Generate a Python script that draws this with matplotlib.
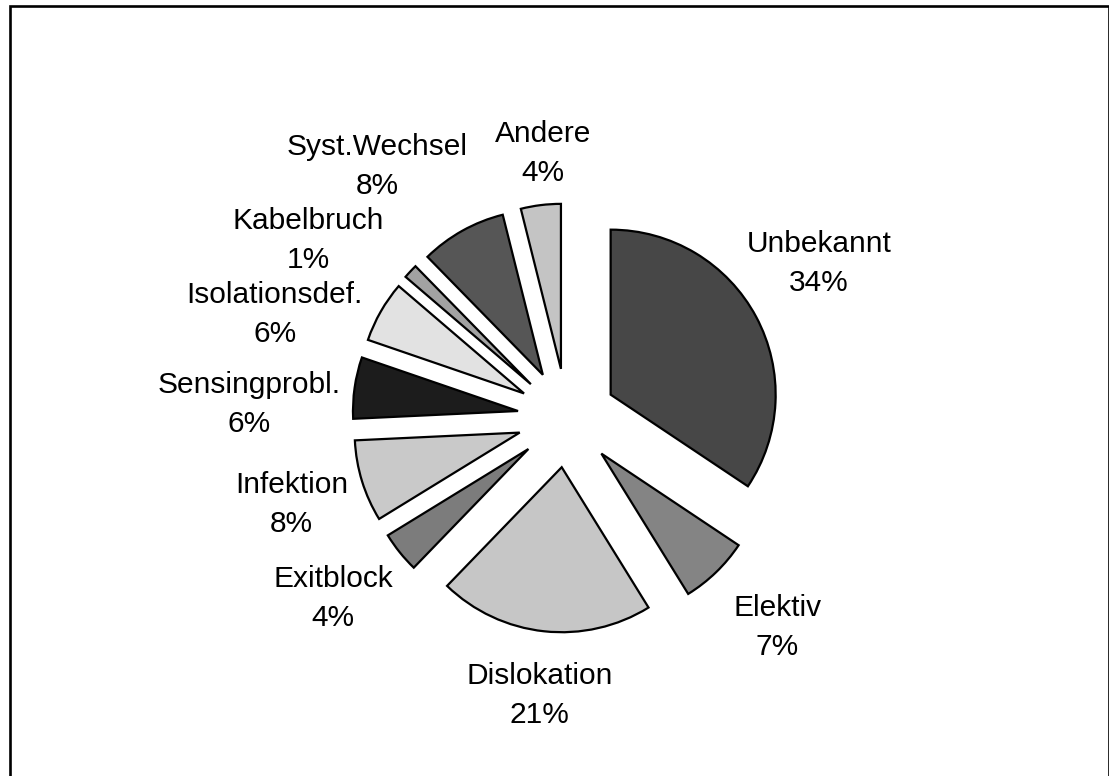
import numpy as np
import matplotlib.pyplot as plt
from matplotlib.patches import Rectangle

plt.rcParams['font.family'] = ['Liberation Sans', 'DejaVu Sans']

##################   Data  #########################

categories = ['Unbekannt', 'Elektiv', 'Dislokation', 'Exitblock', 'Infektion',
              'Sensingprobl.', 'Isolationsdef.', 'Kabelbruch', 'Syst.Wechsel', 'Andere']
values = [34.3, 6.8, 21.0, 4.0, 8.0, 6.0, 6.0, 1.4, 8.4, 3.9]

colors = ['#474747', '#848484', '#c6c6c6', '#7c7c7c', '#c9c9c9',
          '#1c1c1c', '#e2e2e2', '#a2a2a2', '#565656', '#c4c4c4']

# label placement: distance from pie centre (in radii) and angular nudge (deg)
label_dist = [1.79, 1.80, 1.69, 1.79, 1.75, 1.93, 1.88, 1.90, 1.91, 1.61]
label_nudge = [3.3, 1.1, 0.5, -1.2, 0.3, 5.6, 10.2, 8.6, 7.9, -1.8]

###############   Plot  ########################

W, H = 1109, 776
R = 165.0            # pie radius in pixels
cx, cy = 567, 418    # pie centre in pixels (from top-left)

fig = plt.figure(figsize=(W / 100, H / 100), dpi=100)
ax = fig.add_axes([0, 0, 1, 1])

wedges, _ = ax.pie(values, startangle=90, counterclock=False, radius=1,
                   center=(0, 0), explode=[0.3] * len(values), colors=colors,
                   wedgeprops=dict(edgecolor='black', linewidth=1.6))

total = sum(values)
for w, name, v, d, n in zip(wedges, categories, values, label_dist, label_nudge):
    ang = np.deg2rad((w.theta1 + w.theta2) / 2 + n)
    ax.text(d * np.cos(ang), d * np.sin(ang),
            f'{name}\n{round(v / total * 100):d}%',
            ha='center', va='center', fontsize=21.5, linespacing=1.5)

ax.set_aspect('equal')
ax.set_xlim(-cx / R, (W - cx) / R)
ax.set_ylim(-(H - cy) / R, cy / R)
ax.axis('off')

# outer chart frame
fig.patches.append(Rectangle((9.5 / W, -0.05), (W - 9.2) / W, 1.05 - 6.5 / H,
                             transform=fig.transFigure, fill=False,
                             edgecolor='black', linewidth=1.9))

fig.savefig('out.png', dpi=100, facecolor='white')
